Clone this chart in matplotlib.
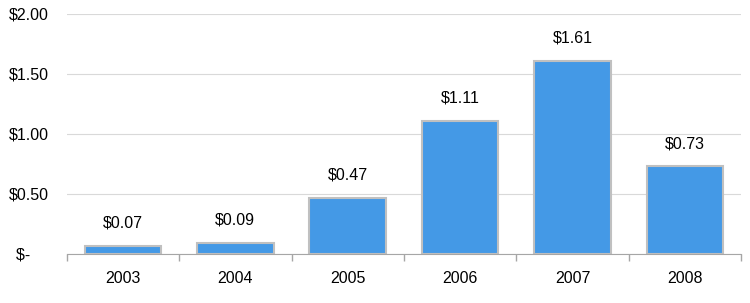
import numpy as np
import matplotlib.pyplot as plt
from matplotlib.ticker import FixedLocator

plt.rcParams.update({"font.family": ["Liberation Sans", "DejaVu Sans"], "font.size": 11.5})

years = ["2003", "2004", "2005", "2006", "2007", "2008"]
values = [0.07, 0.09, 0.47, 1.11, 1.61, 0.73]
yticks = [0.0, 0.5, 1.0, 1.5, 2.0]
ytick_labels = ["$-    ", "$0.50", "$1.00", "$1.50", "$2.00"]

BAR = "#4499e6"
EDGE = "#c0c0c0"
GRID = "#d9d9d9"
AXIS = "#a6a6a6"

fig = plt.figure(figsize=(7.5, 3.03), dpi=100)
ax = fig.add_axes([0.089, 0.162, 0.899, 0.792])

x = np.arange(len(years))
ax.bar(x, values, width=0.68, color=BAR, edgecolor=EDGE, linewidth=1.5, zorder=3)

for xi, v in zip(x, values):
    ax.annotate(f"${v:.2f}", (xi, v), xytext=(0, 11), textcoords="offset points",
                ha="center", va="bottom", color="black")

ax.set_xlim(-0.5, len(years) - 0.5)
ax.set_ylim(0, 2.0)
ax.set_yticks(yticks)
ax.set_yticklabels(ytick_labels)
ax.set_xticks(x)
ax.set_xticklabels(years)
ax.xaxis.set_minor_locator(FixedLocator(np.arange(-0.5, len(years), 1.0)))

ax.tick_params(axis="y", length=0, pad=13)
ax.tick_params(axis="x", which="major", length=0, pad=12)
ax.tick_params(axis="x", which="minor", length=5, color=AXIS, width=1)

ax.grid(axis="y", color=GRID, linewidth=0.8, zorder=0)
for side in ["top", "right", "left"]:
    ax.spines[side].set_visible(False)
ax.spines["bottom"].set_color(AXIS)
ax.spines["bottom"].set_zorder(4)

fig.savefig("out.png", dpi=100)
